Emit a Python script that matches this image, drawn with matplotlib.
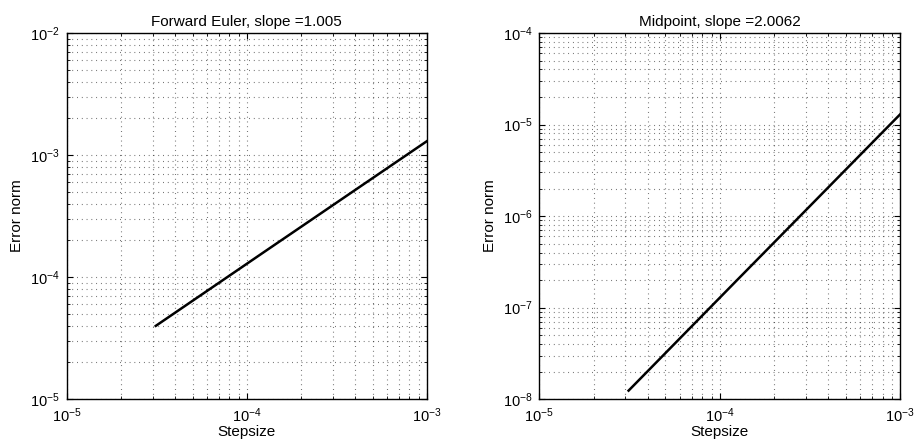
import numpy as np
import matplotlib
matplotlib.use("Agg")
import matplotlib.pyplot as plt

# step sizes and error norms
stepsize = [3.125e-5, 6.25e-5, 1.25e-4, 2.5e-4, 5e-4, 1e-3]
err_euler = [3.99e-5, 8.01e-5, 1.61e-4, 3.23e-4, 6.48e-4, 1.30e-3]
err_midpoint = [1.24e-8, 4.99e-8, 2.01e-7, 8.06e-7, 3.24e-6, 1.30e-5]

titles = ["Forward Euler, slope =1.005", "Midpoint, slope =2.0062"]
ylims = [(1e-5, 1e-2), (1e-8, 1e-4)]

plt.rcParams['font.family'] = ['Liberation Sans', 'DejaVu Sans']
plt.rcParams['mathtext.fontset'] = 'custom'
plt.rcParams['mathtext.rm'] = 'Liberation Sans'
plt.rcParams['mathtext.it'] = 'Liberation Sans'
plt.rcParams['font.size'] = 10


def main():
    fig = plt.figure(figsize=(9.14, 4.47), dpi=100)
    positions = [[0.073, 0.107, 0.394, 0.819], [0.590, 0.107, 0.395, 0.819]]
    for pos, err, title, ylim in zip(positions, [err_euler, err_midpoint], titles, ylims):
        ax = fig.add_axes(pos)
        ax.loglog(stepsize, err, color='k', linewidth=1.8)
        ax.set_xlim(1e-5, 1e-3)
        ax.set_ylim(*ylim)
        ax.grid(True, which='both', linestyle=(0, (0.8, 3.5)), color='k', linewidth=0.8, alpha=0.6)
        ax.tick_params(which='both', direction='in', top=True, right=True, labelsize=10.5)
        ax.tick_params(which='major', length=4, pad=5)
        ax.tick_params(which='minor', length=2)
        for s in ax.spines.values():
            s.set_linewidth(1.0)
        ax.set_title(title, fontsize=11, pad=5)
        ax.set_xlabel('Stepsize', fontsize=11, labelpad=0)
        ax.set_ylabel('Error norm', fontsize=11, labelpad=4)

    plt.savefig('out.png', dpi=100)


if __name__ == "__main__":
    main()
